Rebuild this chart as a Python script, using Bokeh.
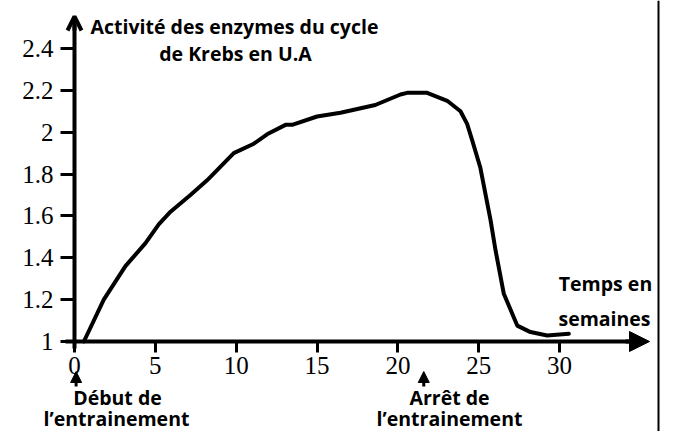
from bokeh.plotting import figure
from bokeh.models import Range1d, FixedTicker, Label, Arrow, NormalHead, OpenHead, Span
from bokeh.embed import file_html
from bokeh.resources import INLINE

# ---- data ----
weeks = [0.58, 1.81, 3.15, 4.39, 5.21, 5.94, 7.17, 8.2, 9.85, 11.09, 11.91, 13.05,
         13.46, 15.0, 16.45, 18.6, 20.16, 20.57, 21.81, 23.05, 23.87, 24.28, 24.6,
         25.1, 25.73, 26.04, 26.55, 27.38, 28.2, 29.23, 30.57]
activity = [1.00, 1.20, 1.36, 1.47, 1.56, 1.62, 1.70, 1.77, 1.90, 1.945, 1.99, 2.035,
            2.035, 2.075, 2.093, 2.13, 2.18, 2.188, 2.188, 2.15, 2.10, 2.04, 1.96,
            1.83, 1.58, 1.435, 1.228, 1.076, 1.045, 1.029, 1.037]

x_ticks = [0, 5, 10, 15, 20, 25, 30]
x_tick_labels = ["0", "5", "10", "15", "20", "25", "30"]
y_ticks = [1.0, 1.2, 1.4, 1.6, 1.8, 2.0, 2.2, 2.4]
y_tick_labels = ["1", "1.2", "1.4", "1.6", "1.8", "2", "2.2", "2.4"]

y_title = ["Activité des enzymes du cycle", "de Krebs en U.A"]
x_title = ["Temps en", "semaines"]
start_label = ["Début de", "l\u2019entrainement"]
stop_label = ["Arrêt de", "l\u2019entrainement"]
start_week = 0
stop_week = 21.5

# ---- layout (canvas pixels) ----
W, H = 660, 431
X0, Y0 = 74, 341      # pixel position of the origin (week 0, activity 1)
PXW = 16.17           # pixels per week
PXV = 209.3           # pixels per unit of activity

def wx(X):  # canvas pixel -> week
    return (X - X0) / PXW

def vy(Y):  # canvas pixel -> activity
    return 1 + (Y0 - Y) / PXV

p = figure(width=W, height=H, title=None,
           x_range=Range1d(wx(0), wx(W)), y_range=Range1d(vy(H), vy(0)),
           output_backend="svg", toolbar_location=None,
           min_border_left=0, min_border_bottom=0, min_border_top=0, min_border_right=0)
p.outline_line_color = None
p.grid.visible = False
p.background_fill_color = "white"
p.border_fill_color = "white"

xa = p.xaxis[0]
xa.fixed_location = 1.0
xa.ticker = FixedTicker(ticks=x_ticks)
xa.major_label_overrides = {t: l for t, l in zip(x_ticks, x_tick_labels)}
xa.bounds = (wx(65), wx(636))
ya = p.yaxis[0]
ya.fixed_location = 0
ya.ticker = FixedTicker(ticks=y_ticks)
ya.major_label_overrides = {t: l for t, l in zip(y_ticks, y_tick_labels)}
ya.bounds = (vy(348), vy(24))
for ax in (xa, ya):
    ax.axis_line_width = 4
    ax.axis_line_color = "black"
    ax.major_tick_line_width = 3
    ax.major_tick_line_color = "black"
    ax.minor_tick_line_color = None
    ax.major_tick_in = 0
    ax.major_label_text_font = "Liberation Serif"
    ax.major_label_text_font_size = "25px"
    ax.major_label_text_color = "black"
xa.major_tick_out = 11
xa.major_label_standoff = 4
ya.major_tick_out = 14
ya.major_label_standoff = 7

p.line(weeks, activity, line_width=4, line_color="black", line_join="round", line_cap="round")

# axis arrowheads
p.add_layout(Arrow(end=NormalHead(size=20, fill_color="black", line_color="black"),
                   x_start=wx(625), y_start=1, x_end=wx(649), y_end=1,
                   line_width=4, line_color="black"))
p.add_layout(Arrow(end=OpenHead(size=14, line_width=4, line_color="black"),
                   x_start=0, y_start=vy(30), x_end=0, y_end=vy(16),
                   line_width=4, line_color="black"))

# right border line
p.add_layout(Span(location=wx(658), dimension="height", line_color="black", line_width=2))

def bold_label(x, y, text):
    p.add_layout(Label(x=x, y=y, text=text, text_font="Open Sans", text_font_style="bold",
                       text_font_size="19.5px", text_align="center", text_baseline="middle",
                       text_color="black"))

bold_label(wx(234), vy(26), y_title[0])
bold_label(wx(235), vy(53), y_title[1])
bold_label(wx(605), vy(283), x_title[0])
bold_label(wx(604), vy(318), x_title[1])
bold_label(wx(117), vy(397), start_label[0])
bold_label(wx(116), vy(418), start_label[1])
bold_label(wx(449), vy(397), stop_label[0])
bold_label(wx(449), vy(418), stop_label[1])

# event arrows under the axis
for wk in (start_week, stop_week):
    p.add_layout(Arrow(end=NormalHead(size=11, fill_color="black", line_color="black"),
                       x_start=wk + 0.1, y_start=vy(386), x_end=wk + 0.1, y_end=vy(371),
                       line_width=3, line_color="black"))

open("out.html", "w").write(file_html(p, INLINE))
